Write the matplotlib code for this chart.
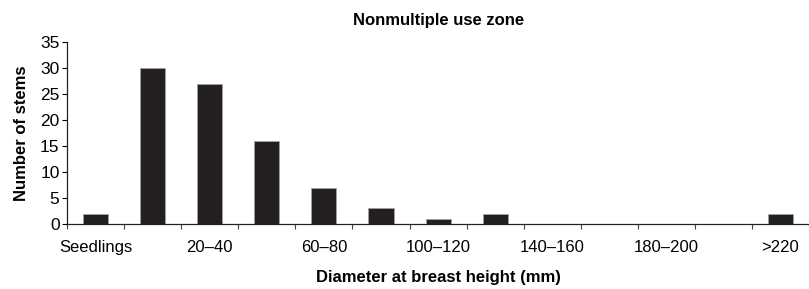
import numpy as np
import matplotlib
import matplotlib.pyplot as plt

font = {'family': ['Liberation Sans', 'DejaVu Sans'], 'weight': 'normal', 'size': 12}
matplotlib.rc('font', **font)

# data
categories = ['Seedlings', '0\u201320', '20\u201340', '40\u201360', '60\u201380', '80\u2013100',
              '100\u2013120', '120\u2013140', '140\u2013160', '160\u2013180', '180\u2013200',
              '200\u2013220', '>220']
stems = [2, 30, 27, 16, 7, 3, 1, 2, 0, 0, 0, 0, 2]

fig = plt.figure(figsize=(8.09, 2.89), dpi=100, facecolor='white')
ax = fig.add_axes([0.083, 0.225, 0.917, 0.63])

x = np.arange(len(categories))
ax.bar(x, stems, width=0.44, color='#231f20', edgecolor='#a0a0a0', linewidth=0.6, zorder=2)

ax.set_xlim(-0.5, len(categories) - 0.5)
ax.set_ylim(0, 35)
ax.set_yticks(range(0, 36, 5))

# tick marks on the category boundaries, labels on every other category
ax.set_xticks(np.arange(-0.5, len(categories), 1.0))
ax.set_xticklabels([])
ax.set_xticks(x[::2], minor=True)
ax.set_xticklabels(categories[::2], minor=True)
ax.tick_params(axis='x', which='major', direction='out', length=3.5, width=0.8, color='#444444')
ax.tick_params(axis='x', which='minor', length=0, pad=11.5, labelsize=12)
ax.tick_params(axis='y', direction='out', length=3.5, width=0.8, pad=2, labelsize=12.5)

for side in ['top', 'right']:
    ax.spines[side].set_visible(False)
for side in ['left', 'bottom']:
    ax.spines[side].set_linewidth(0.9)
    ax.spines[side].set_color('#222222')

ax.set_ylabel('Number of stems', fontweight='bold', fontsize=12, labelpad=8)
ax.set_xlabel('Diameter at breast height (mm)', fontweight='bold', fontsize=12, labelpad=11)
ax.set_title('Nonmultiple use zone', fontweight='bold', fontsize=12, pad=12)

plt.savefig('out.png', dpi=100)
plt.close()
